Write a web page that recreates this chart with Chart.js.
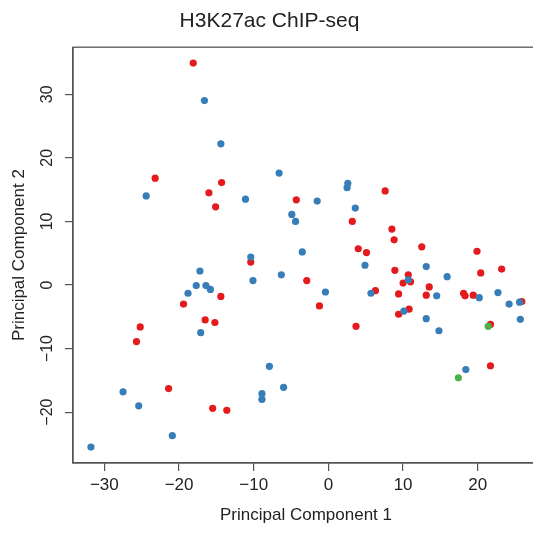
<!DOCTYPE html>
<html>
<head>
<meta charset="utf-8">
<script src="https://cdn.jsdelivr.net/npm/chart.js@4"></script>
<style>
  html, body { margin: 0; padding: 0; background: #fff; overflow: hidden; }
  #wrap { width: 600px; height: 533px; }
</style>
</head>
<body>
<div id="wrap"><canvas id="pcaChart" width="600" height="533"></canvas></div>
<script>
// tick labels
const xTicks = [-30, -20, -10, 0, 10, 20];
const yTicks = [-20, -10, 0, 10, 20, 30];

// group 1 (red)
const redX = [-18.1, -23.2, -14.3, -16.0, -15.1, -4.3, 7.6, 3.2, 8.5, -10.4, 4.0, 5.1, -2.9, -1.2, 6.3,
  3.7, 8.8, 12.5, 19.9, 8.9, 10.7, 10.0, 11.0, 20.4, 23.2, 13.5, 9.4, 13.1, 18.1, 18.3,
  19.4, 25.9, 9.4, 10.8, 21.7, 21.7, -14.4, -19.4, -16.5, -15.2, -25.2, -25.7, -21.4, -15.5, -13.6];
const redY = [34.9, 16.8, 16.1, 14.5, 12.3, 13.4, 14.8, 10.0, 8.8, 3.6, 5.7, 5.1, 0.7, -3.3, -0.9,
  -6.5, 7.1, 6.0, 5.3, 2.3, 1.6, 0.3, 0.5, 1.9, 2.5, -0.3, -1.4, -1.6, -1.3, -1.7,
  -1.6, -2.6, -4.6, -3.8, -6.2, -12.7, -1.8, -3.0, -5.5, -5.9, -6.6, -8.9, -16.3, -19.4, -19.7];

// group 2 (blue)
const blueX = [-16.6, -14.4, -24.4, -6.6, -11.1, -1.5, 2.6, 2.5, -4.9, -4.4, 3.6, -3.5, -10.4, 4.9, -10.1,
  -6.3, -0.4, 5.7, 13.1, 10.7, 15.9, 14.5, 20.2, 22.7, 24.2, 25.6, 10.1, 13.1, 14.8, 25.7,
  18.4, -17.2, -17.7, -18.8, -16.4, -15.8, -17.1, -27.5, -25.4, -20.9, -31.8, -7.9, -6.0, -8.9, -8.9];
const blueY = [29.0, 22.2, 14.0, 17.6, 13.5, 13.2, 16.0, 15.3, 11.1, 10.0, 12.1, 5.2, 4.4, 3.1, 0.7,
  1.6, -1.1, -1.3, 2.9, 0.8, 1.3, -1.7, -2.0, -1.2, -3.0, -2.7, -4.1, -5.3, -7.2, -5.4,
  -13.3, 2.2, -0.1, -1.3, -0.1, -0.7, -7.5, -16.8, -19.0, -23.7, -25.5, -12.8, -16.1, -17.1, -18.0];

// group 3 (green)
const greenX = [21.4, 17.4];
const greenY = [-6.5, -14.6];

const FONT = '"Liberation Sans", Arial, Helvetica, sans-serif';
const fmt = v => (v < 0 ? '\u2212' + Math.abs(v) : String(v));
const pts = (xs, ys) => xs.map((x, i) => ({ x: x, y: ys[i] }));

// y tick labels are drawn rotated, like R's default axis
const yLabelPlugin = {
  id: 'yLabels',
  afterDraw(chart) {
    const ctx = chart.ctx, ys = chart.scales.y;
    ctx.save();
    ctx.font = '16px ' + FONT;
    ctx.fillStyle = '#222';
    ctx.textAlign = 'center';
    ctx.textBaseline = 'alphabetic';
    ys.ticks.forEach(t => {
      ctx.save();
      ctx.translate(ys.right - 21, ys.getPixelForValue(t.value));
      ctx.rotate(-Math.PI / 2);
      ctx.fillText(fmt(t.value), 0, 0);
      ctx.restore();
    });
    ctx.restore();
  }
};

const boxPlugin = {
  id: 'box',
  afterDatasetsDraw(chart) {
    const { left, top, right, bottom } = chart.chartArea;
    const ctx = chart.ctx;
    ctx.save();
    ctx.strokeStyle = '#555';
    ctx.lineWidth = 1.3;
    ctx.strokeRect(left, top, right - left, bottom - top);
    ctx.restore();
  }
};

const ctx = document.getElementById('pcaChart').getContext('2d');
new Chart(ctx, {
  type: 'scatter',
  data: {
    datasets: [
      { label: 'green', data: pts(greenX, greenY), backgroundColor: '#4DAF4A' },
      { label: 'blue', data: pts(blueX, blueY), backgroundColor: '#377EB8' },
      { label: 'red', data: pts(redX, redY), backgroundColor: '#E41A1C' }
    ]
  },
  options: {
    responsive: false,
    animation: false,
    layout: { padding: { left: 0, right: 61, top: 0, bottom: 0 } },
    elements: { point: { radius: 3.6, borderWidth: 0, hoverRadius: 3.6 } },
    plugins: {
      legend: { display: false },
      tooltip: { enabled: false },
      title: {
        display: true,
        text: 'H3K27ac ChIP-seq',
        color: '#222',
        font: { family: FONT, size: 21, weight: 'normal', lineHeight: 1.2 },
        padding: { top: 9, bottom: 13 }
      }
    },
    scales: {
      x: {
        type: 'linear',
        min: -34.2,
        max: 28.2,
        afterBuildTicks: s => { s.ticks = xTicks.map(v => ({ value: v })); },
        afterFit: s => { s.height = 70; },
        grid: { display: true, drawOnChartArea: false, drawTicks: true, tickLength: 8, color: '#555', lineWidth: 1.2 },
        border: { display: true, color: '#555', width: 1.3 },
        ticks: {
          autoSkip: false, maxRotation: 0, padding: 4, color: '#222',
          font: { family: FONT, size: 17 },
          callback: v => fmt(v)
        },
        title: {
          display: true, text: 'Principal Component 1', color: '#222',
          font: { family: FONT, size: 17, lineHeight: 1.2 },
          padding: { top: 0, bottom: 7 }
        }
      },
      y: {
        type: 'linear',
        min: -28.0,
        max: 37.4,
        afterBuildTicks: s => { s.ticks = yTicks.map(v => ({ value: v })); },
        afterFit: s => { s.width = 73; },
        grid: { display: true, drawOnChartArea: false, drawTicks: true, tickLength: 8, color: '#555', lineWidth: 1.2 },
        border: { display: true, color: '#555', width: 1.3 },
        ticks: { display: false },
        title: {
          display: true, text: 'Principal Component 2', color: '#222',
          font: { family: FONT, size: 17, lineHeight: 1.2 },
          padding: { top: 9, bottom: 0 }
        }
      }
    }
  },
  plugins: [yLabelPlugin, boxPlugin]
});
</script>
</body>
</html>
